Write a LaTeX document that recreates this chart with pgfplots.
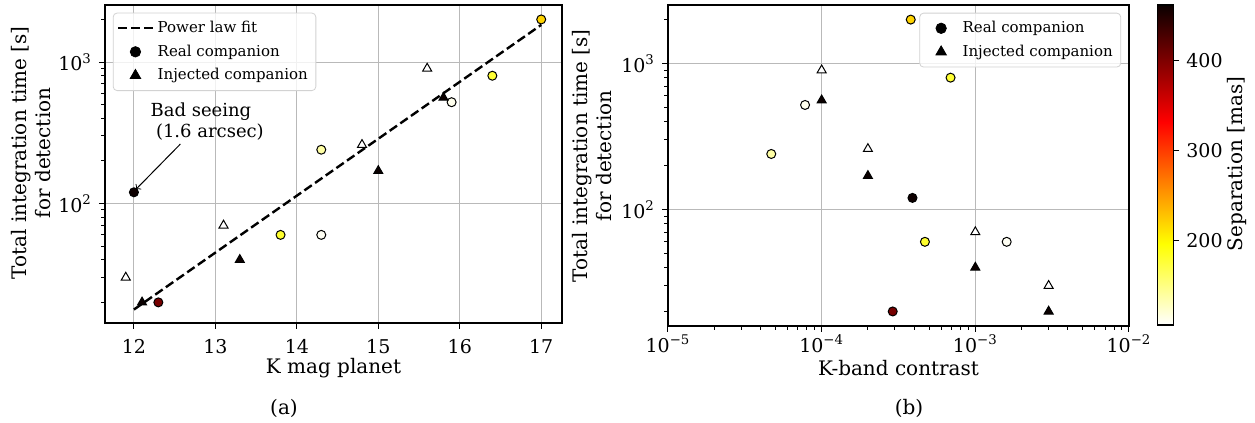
\documentclass[border=0pt]{standalone}
\usepackage{fontspec}
\setmainfont{DejaVu Serif}
\usepackage{pgfplots}
\usepackage{pgfplotstable}
\pgfplotsset{compat=1.18}

\pgfplotstableread{
x y s
12.0 120 460
12.3 20 405
13.8 60 180
14.3 240 138
14.3 60 110
15.9 520 112
16.4 800 178
17.0 2000 220
}\leftreal
\pgfplotstableread{
x y s
11.9 30 106
13.1 70 106
14.8 260 106
15.6 900 106
12.1 20 462
13.3 40 462
15.0 170 462
15.8 560 462
}\leftinj
\pgfplotstableread{
x y s
3.9e-4 120 460
2.9e-4 20 405
4.7e-4 60 180
4.7e-5 240 138
1.6e-3 60 110
7.8e-5 520 112
6.9e-4 800 178
3.8e-4 2000 220
}\rightreal
\pgfplotstableread{
x y s
1e-4 900 106
2e-4 260 106
1e-3 70 106
3e-3 30 106
1e-4 560 462
2e-4 170 462
1e-3 40 462
3e-3 20 462
}\rightinj

\pgfplotsset{
  colormap={hotr}{rgb(0)=(1,1,1) rgb(0.254)=(1,1,0) rgb(0.635)=(1,0,0) rgb(1)=(0.0416,0,0)},
  myax/.style={
    scale only axis,
    anchor=south west,
    axis line style={black, line width=0.6pt},
    tick align=outside,
    xtick pos=bottom, ytick pos=left,
    major tick length=3pt, minor tick length=1.8pt,
    tick style={black, line width=0.5pt},
    grid=major,
    major grid style={gray!55, line width=0.5pt},
    tick label style={font=\fontsize{9.5}{11}\selectfont},
    xticklabel style={yshift=-1.5pt},
    label style={font=\fontsize{10}{12}\selectfont},
    point meta min=106, point meta max=462,
    legend cell align=left,
    legend style={draw=gray!35, rounded corners=2pt, fill=white, fill opacity=0.8, text opacity=1,
      font=\fontsize{7.5}{9}\selectfont, row sep=0.6pt, inner sep=2pt},
  },
  realmk/.style={scatter, only marks, mark=*, mark size=2.25pt, scatter src=explicit,
    scatter/use mapped color={draw=black, fill=mapped color}, line width=0.5pt, forget plot},
  injmk/.style={scatter, only marks, mark=triangle*, mark size=2.6pt, scatter src=explicit,
    scatter/use mapped color={draw=black, fill=mapped color}, line width=0.5pt, forget plot},
  mklegend/.style={legend image code/.code={%
      \path (0cm,0cm) (0.6cm,0cm);
      \draw[##1, fill opacity=1, draw opacity=1] plot coordinates {(0.3cm,0cm)};}},
}

\begin{document}
\begin{tikzpicture}[x=1pt,y=1pt]
\useasboundingbox (0,0) rectangle (627.5,211.5);

\begin{axis}[myax,
  at={(52.5pt,50pt)}, width=228.5pt, height=159pt,
  xmin=11.645, xmax=17.255,
  ymode=log, ymin=14.3, ymax=2530,
  xtick={12,13,14,15,16,17}, xticklabels={12,13,14,15,16,17},
  ytick={100,1000}, yticklabels={10\textsuperscript{2},10\textsuperscript{3}},
  minor ytick={20,30,40,50,60,70,80,90,200,300,400,500,600,700,800,900,2000},
  xlabel={K mag planet},
  xlabel style={at={(axis description cs:0.5,-0.1415)}, anchor=center},
  ylabel={Total integration time [s]\\for detection},
  ylabel style={align=center, at={(axis description cs:-0.161,0.535)}, anchor=center},
  legend style={at={(axis description cs:0.017,0.976)}, anchor=north west},
]
\addlegendimage{black, line width=1.2pt, dash pattern=on 4.5pt off 2pt, fill opacity=1, draw opacity=1}
\addlegendentry{Power law fit}
\addlegendimage{mklegend, mark=*, mark size=2.6pt, black}
\addlegendentry{Real companion}
\addlegendimage{mklegend, mark=triangle*, mark size=3pt, black}
\addlegendentry{Injected companion}
\addplot[black, line width=1.2pt, dash pattern=on 4.5pt off 2pt, forget plot] coordinates {(12,17.8) (17,1830)};
\addplot[realmk] table[x=x,y=y,meta=s] {\leftreal};
\addplot[injmk] table[x=x,y=y,meta=s] {\leftinj};
\draw[->, black, line width=0.5pt] (axis cs:12.57,263) -- (axis cs:12.025,126);
\node[anchor=west, align=left, inner sep=0pt, font=\fontsize{9}{10.5}\selectfont] at (axis cs:12.2,378) {Bad seeing\\\hspace{0.3em}(1.6 arcsec)};
\end{axis}

\begin{axis}[myax,
  at={(334pt,48.5pt)}, width=230.5pt, height=160.5pt,
  xmode=log, xmin=1e-5, xmax=1e-2,
  ymode=log, ymin=15.9, ymax=2518,
  xtick={1e-5,1e-4,1e-3,1e-2},
  xticklabels={10\textsuperscript{−5},10\textsuperscript{−4},10\textsuperscript{−3},10\textsuperscript{−2}},
  xticklabel style={yshift=3.5pt},
  minor xtick={2e-5,3e-5,4e-5,5e-5,6e-5,7e-5,8e-5,9e-5,2e-4,3e-4,4e-4,5e-4,6e-4,7e-4,8e-4,9e-4,2e-3,3e-3,4e-3,5e-3,6e-3,7e-3,8e-3,9e-3},
  ytick={100,1000}, yticklabels={10\textsuperscript{2},10\textsuperscript{3}},
  minor ytick={20,30,40,50,60,70,80,90,200,300,400,500,600,700,800,900,2000},
  xlabel={K-band contrast},
  xlabel style={at={(axis description cs:0.5,-0.131)}, anchor=center},
  ylabel={Total integration time [s]\\for detection},
  ylabel style={align=center, at={(axis description cs:-0.164,0.53)}, anchor=center},
  legend style={at={(axis description cs:0.983,0.976)}, anchor=north east},
  colormap name=hotr,
  colorbar,
  colorbar style={
    at={(parent axis.north east)}, anchor=north west, xshift=5.8pt,
    scale only axis, width=7.8pt, height=160pt,
    ytick={200,300,400}, yticklabels={200,300,400},
    ytick pos=right, yticklabel pos=right,
    tick align=outside, major tick length=3pt,
    axis line style={black, line width=0.6pt},
    tick label style={font=\fontsize{9.5}{11}\selectfont},
  },
]
\addlegendimage{mklegend, mark=*, mark size=2.6pt, black}
\addlegendentry{Real companion}
\addlegendimage{mklegend, mark=triangle*, mark size=3pt, black}
\addlegendentry{Injected companion}
\addplot[realmk] table[x=x,y=y,meta=s] {\rightreal};
\addplot[injmk] table[x=x,y=y,meta=s] {\rightinj};
\end{axis}

\node[rotate=90, font=\fontsize{10}{12}\selectfont] at (618.4,129.5) {Separation [mas]};
\node[font=\fontsize{10}{12}\selectfont] at (142,7.5) {(a)};
\node[font=\fontsize{10}{12}\selectfont] at (454.5,7.5) {(b)};
\end{tikzpicture}
\end{document}
